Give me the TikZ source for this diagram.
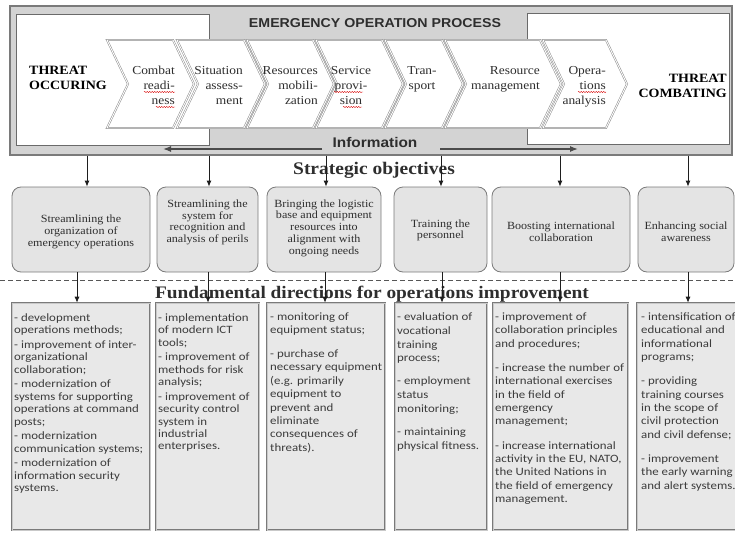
\documentclass[tikz,border=0pt]{standalone}
\usepackage{fontspec}
\usetikzlibrary{arrows.meta,decorations.pathmorphing}
\newfontfamily\srf[FakeStretch=1.1]{Liberation Serif}
\newfontfamily\hsans[FakeStretch=1.1]{Liberation Sans}
\newfontfamily\bodyf[FakeStretch=1.15]{Carlito}
\definecolor{framegray}{HTML}{D3D3D3}
\definecolor{linegray}{HTML}{7A7A7A}
\definecolor{darkline}{HTML}{6A6A6A}
\definecolor{chevline}{HTML}{8A8A8A}
\definecolor{sfill}{HTML}{E4E4E4}
\definecolor{bfill}{HTML}{E8E8E8}
\definecolor{txtdark}{HTML}{2E2E2E}
\definecolor{txtbody}{HTML}{3C3C3C}
\definecolor{arrowc}{HTML}{1E1E1E}
\newcommand\firstln{\rule{0pt}{9pt}}
\newcommand\chevron[2]{\draw[chev] (#1,40) -- (#2,40) -- ({#2+21},84) -- (#2,128) -- (#1,128) -- ({#1+21},84) -- cycle;}
\begin{document}
\begin{tikzpicture}[x=1pt,y=-1pt,
  frame/.style={draw=linegray, line width=1.3pt, fill=framegray, inner sep=0pt, minimum width=722pt, minimum height=149pt},
  whitebox/.style={draw=darkline, line width=0.9pt, fill=white, inner sep=0pt, minimum height=131pt},
  chev/.style={draw=chevline, double=white, double distance=0.9pt, line width=0.5pt, fill=white, line join=miter},
  ctext/.style={font=\srf\fontsize{12.2}{15}\selectfont, inner sep=0pt, text=txtdark, align=right, anchor=north east},
  threat/.style={font=\srf\bfseries\fontsize{12.7}{15}\selectfont, inner sep=0pt, text=black},
  head/.style={font=\srf\bfseries\fontsize{17.7}{20}\selectfont, inner sep=0pt, text=txtdark, anchor=base},
  sanshead/.style={font=\hsans\bfseries, inner sep=0pt, text=txtdark, anchor=base},
  sbox/.style={draw=linegray, line width=0.8pt, fill=sfill, rounded corners=9pt, inner sep=0pt, minimum height=85pt},
  stext/.style={font=\srf\fontsize{11}{11.7}\selectfont, inner sep=0pt, text=txtdark, align=center},
  bbox/.style={draw=linegray, line width=0.6pt, double=bfill!70!gray, double distance=0.6pt, fill=bfill, inner sep=0pt, minimum height=227pt},
  btext/.style={font=\bodyf\fontsize{11.2}{12.4}\selectfont, inner sep=0pt, text=txtbody, align=left, anchor=north west},
  btextw/.style={btext, font=\bodyf\fontsize{11.2}{13.4}\selectfont},
  arr/.style={draw=arrowc, line width=0.8pt, -{Latex[length=6pt,width=5pt]}},
  infoarr/.style={draw=arrowc!80!white, line width=1.3pt, -{Latex[length=8pt,width=6pt]}},
  dashline/.style={draw=arrowc!75!white, line width=0.8pt, dash pattern=on 5pt off 3pt},
  squig/.style={draw=red!85!black, line width=0.4pt, decorate, decoration={snake, amplitude=0.6pt, segment length=2.5pt}}
]
\useasboundingbox (0,0) rectangle (735,532);
% top frame
\node[frame] (frame) at (371,80.5) {};
\node[whitebox, minimum width=193pt] (occbox) at (112.5,79.5) {};
\node[whitebox, minimum width=202pt] (combox) at (628,78.5) {};
\node[sanshead, font=\hsans\bfseries\fontsize{12.9}{15}\selectfont] (title) at (375,28) {EMERGENCY OPERATION PROCESS};
% chevrons
\chevron{107}{173}
\chevron{177}{244}
\chevron{247}{313}
\chevron{316}{382}
\chevron{385}{442}
\chevron{445}{540}
\chevron{543}{606}
\node[threat, anchor=north west, align=left] (occ) at (29,65) {\firstln THREAT\\OCCURING};
\node[threat, anchor=north east, align=right] (comb) at (727,73) {\firstln THREAT\\COMBATING};
\node[ctext] (c1) at (175,65) {\firstln Combat\\readi-\\ness};
\node[ctext] (c2) at (243,65) {\firstln Situation\\assess-\\ment};
\node[ctext] (c3) at (318,65) {\firstln Resources\\mobili-\\zation};
\node[ctext, align=center, anchor=north] (c4) at (351,65) {\firstln Service\\provi-\\sion};
\node[ctext, align=center, anchor=north] (c5) at (422,65) {\firstln Tran-\\sport};
\node[ctext] (c6) at (540,65) {\firstln Resource\\management};
\node[ctext] (c7) at (606,65) {\firstln Opera-\\tions\\analysis};
\draw[squig] (144,92) -- (175,92);
\draw[squig] (156,107) -- (175,107);
\draw[squig] (334,92) -- (363,92);
\draw[squig] (343,107) -- (362,107);
\draw[squig] (578,92) -- (606,92);
% information
\node[sanshead, font=\hsans\bfseries\fontsize{14}{16}\selectfont] (info) at (375,147) {Information};
\coordinate (ilS) at (322,149);
\coordinate (ilE) at (163,149);
\coordinate (irS) at (440,149);
\coordinate (irE) at (578,149);
\draw[infoarr] (ilS) -- (ilE);
\draw[infoarr] (irS) -- (irE);
% strategic objectives
\node[head] (strat) at (374,174) {Strategic objectives};
\node[sbox, minimum width=138pt] (s1) at (81,229.5) {};
\node[sbox, minimum width=101pt] (s2) at (207.5,229.5) {};
\node[sbox, minimum width=114pt] (s3) at (324,229.5) {};
\node[sbox, minimum width=93pt] (s4) at (440.5,229.5) {};
\node[sbox, minimum width=138pt] (s5) at (561,229.5) {};
\node[sbox, minimum width=96pt] (s6) at (686,229.5) {};
\node[stext] (s1t) at (81,232) {Streamlining the\\organization of\\emergency operations};
\node[stext] (s2t) at (207.5,222.5) {Streamlining the\\system for\\recognition and\\analysis of perils};
\node[stext] (s3t) at (324,228) {Bringing the logistic\\base and equipment\\resources into\\alignment with\\ongoing needs};
\node[stext] (s4t) at (440.5,230.5) {Training the\\personnel};
\node[stext] (s5t) at (561,231.5) {Boosting international\\collaboration};
\node[stext] (s6t) at (686,231.5) {Enhancing social\\awareness};
% dashed separator and heading
\coordinate (dl) at (0,280);
\coordinate (dr) at (735,280);
\draw[dashline] (dl) -- (dr);
\node[head, font=\srf\bfseries\fontsize{17.6}{20}\selectfont] (fund) at (372,298) {Fundamental directions for operations improvement};
% bottom boxes
\node[bbox, minimum width=138pt] (b1) at (81,416.5) {};
\node[bbox, minimum width=103pt] (b2) at (207.5,416.5) {};
\node[bbox, minimum width=118pt] (b3) at (326,416.5) {};
\node[bbox, minimum width=92pt] (b4) at (441,416.5) {};
\node[bbox, minimum width=135pt] (b5) at (560.5,416.5) {};
\node[bbox, minimum width=99pt] (b6) at (686.5,416.5) {};
\node[btext] (b1t) at (14,312) {\firstln - development\\operations methods;\\[2.3pt]- improvement of inter-\\organizational\\collaboration;\\[2.3pt]- modernization of\\systems for supporting\\operations at command\\posts;\\[2.3pt]- modernization\\communication systems;\\[2.3pt]- modernization of\\information security\\systems.};
\node[btext] (b2t) at (158,312) {\firstln - implementation\\of modern ICT\\tools;\\[2.3pt]- improvement of\\methods for risk\\analysis;\\[2.3pt]- improvement of\\security control\\system in\\industrial\\enterprises.};
\node[btextw] (b3t) at (270,311) {\firstln - monitoring of\\equipment status;\\[10.5pt]- purchase of\\necessary equipment\\(e.g. primarily\\equipment to\\prevent and\\eliminate\\consequences of\\threats).};
\node[btextw, font=\bodyf\fontsize{11.2}{13.9}\selectfont] (b4t) at (397,311) {\firstln - evaluation of\\vocational\\training\\process;\\[9pt]- employment\\status\\monitoring;\\[9pt]- maintaining\\physical fitness.};
\node[btextw] (b5t) at (495,311) {\firstln - improvement of\\collaboration principles\\and procedures;\\[10.8pt]- increase the number of\\international exercises\\in the field of\\emergency\\management;\\[10.8pt]- increase international\\activity in the EU, NATO,\\the United Nations in\\the field of emergency\\management.};
\node[btextw] (b6t) at (641,311) {\firstln - intensification of\\educational and\\informational\\programs;\\[10.8pt]- providing\\training courses\\in the scope of\\civil protection\\and civil defense;\\[10.8pt]- improvement\\the early warning\\and alert systems.};
% connectors frame -> strategic
\coordinate (a1) at (87,0);
\coordinate (a2) at (209,0);
\coordinate (a3) at (326,0);
\coordinate (a4) at (441,0);
\coordinate (a5) at (560,0);
\coordinate (a6) at (688,0);
\draw[arr] (frame.south -| a1) -- (s1.north -| a1);
\draw[arr] (frame.south -| a2) -- (s2.north -| a2);
\draw[arr] (frame.south -| a3) -- (s3.north -| a3);
\draw[arr] (frame.south -| a4) -- (s4.north -| a4);
\draw[arr] (frame.south -| a5) -- (s5.north -| a5);
\draw[arr] (frame.south -| a6) -- (s6.north -| a6);
% connectors strategic -> fundamental
\coordinate (m1) at (77,0);
\coordinate (m2) at (208,0);
\coordinate (m3) at (325,0);
\coordinate (m4) at (442,0);
\coordinate (m5) at (560,0);
\coordinate (m6) at (688,0);
\draw[arr] (s1.south -| m1) -- (b1.north -| m1);
\draw[arr] (s2.south -| m2) -- (b2.north -| m2);
\draw[arr] (s3.south -| m3) -- (b3.north -| m3);
\draw[arr] (s4.south -| m4) -- (b4.north -| m4);
\draw[arr] (s5.south -| m5) -- (b5.north -| m5);
\draw[arr] (s6.south -| m6) -- (b6.north -| m6);
\end{tikzpicture}
\end{document}
